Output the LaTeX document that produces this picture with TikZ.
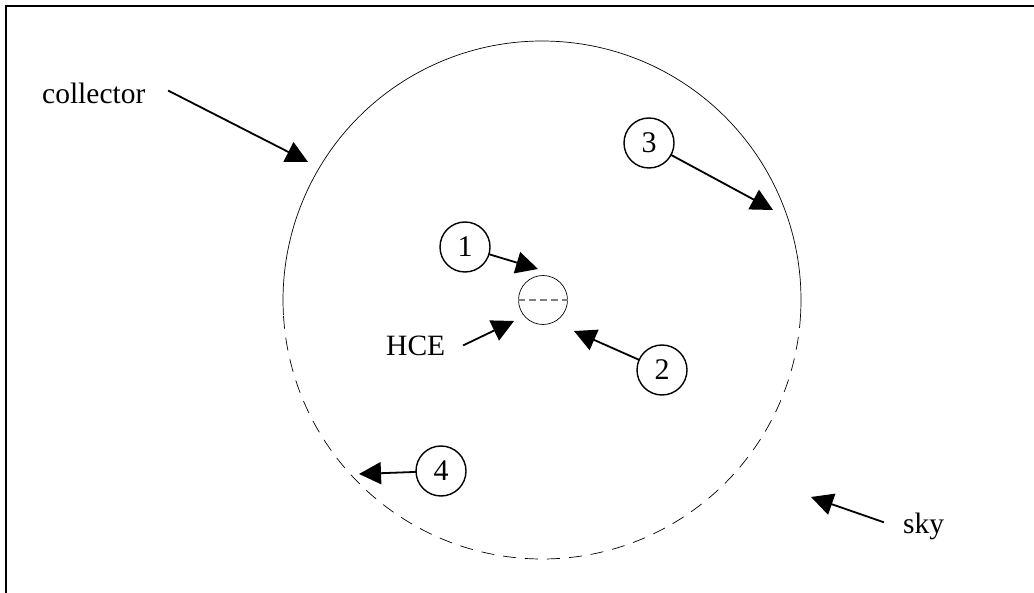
\documentclass[tikz,border=0pt]{standalone}
\usepackage{fontspec}
\setmainfont{Liberation Serif}
\usetikzlibrary{arrows.meta}
\begin{document}
\begin{tikzpicture}[x=1pt,y=-1pt,
  lbl/.style={font=\fontsize{29.5}{32}\selectfont, inner sep=0pt},
  num/.style={draw, circle, line width=1.4pt, minimum size=50pt, inner sep=0pt, font=\fontsize{30}{32}\selectfont},
  arr/.style={line width=1.8pt, -{Triangle[length=22pt,width=22pt]}, shorten <=-1pt}]
\useasboundingbox (0,0) rectangle (1034,593);
% frame (left and top only visible)
\draw[line width=2.2pt] (1034,6) -- (6,6) -- (6,593);
% collector circle
\coordinate (C) at (542,300);
\draw[line width=0.7pt] (C) ++(3.3:259) arc[start angle=3.3, end angle=-183.3, radius=259];
\draw[line width=0.7pt, dash pattern=on 13pt off 9pt] (C) ++(3.3:259) arc[start angle=3.3, end angle=176.7, radius=259];
% HCE
\node[draw, circle, line width=0.7pt, minimum size=49pt, inner sep=0pt] (hce) at (543,300) {};
\draw[gray, line width=1.2pt, dash pattern=on 7pt off 4pt] (hce.west) -- (hce.east);
% labels
\node[lbl, anchor=base west] (collector) at (42,104) {collector};
\node[lbl, anchor=base west] (hcel) at (386,356) {HCE};
\node[lbl, anchor=base west] (sky) at (903,533) {sky};
% numbered circles
\node[num] (n1) at (465,247) {1};
\node[num] (n2) at (662,370) {2};
\node[num] (n3) at (649,143) {3};
\node[num] (n4) at (441,471) {4};
% arrow tips
\coordinate (t1) at (538,269);
\coordinate (t2) at (574,331);
\coordinate (t3) at (773,210);
\coordinate (t4) at (359,474);
\coordinate (tc) at (308,162);
\coordinate (th) at (514,321);
\coordinate (ts) at (811,497);
\coordinate (sc) at (169,91);
\coordinate (hs) at (464,345);
\coordinate (ss) at (883,522);
% arrows
\draw[arr] (n1) -- (t1);
\draw[arr] (n2) -- (t2);
\draw[arr] (n3) -- (t3);
\draw[arr] (n4) -- (t4);
\draw[arr] (sc) -- (tc);
\draw[arr] (hs) -- (th);
\draw[arr] (ss) -- (ts);
\end{tikzpicture}
\end{document}
